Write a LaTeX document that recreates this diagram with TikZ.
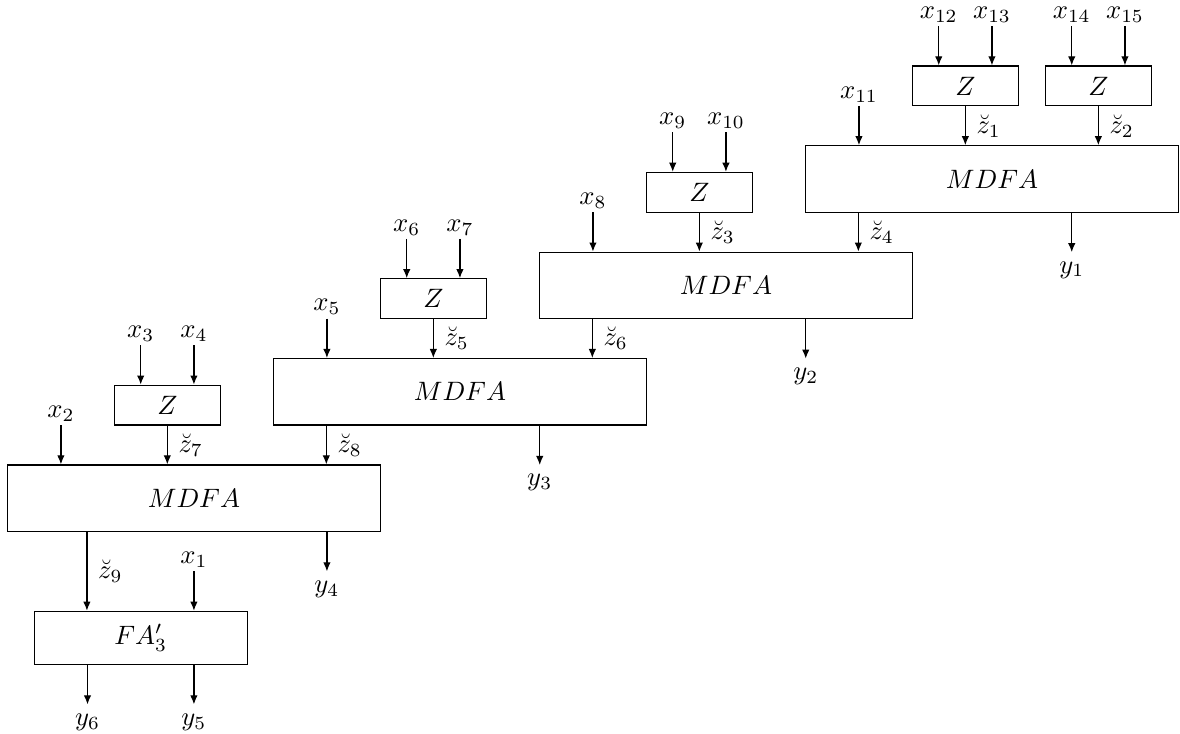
\documentclass[tikz,border=0pt]{standalone}
\usetikzlibrary{arrows.meta}
\begin{document}
\begin{tikzpicture}[x=10pt,y=10pt,line width=0.45pt,
  arr/.style={-{Latex[length=3.4pt,width=2.8pt]}},
  mdfa/.style={draw,minimum width=140pt,minimum height=25pt,inner sep=0pt},
  zbox/.style={draw,minimum width=40pt,minimum height=15pt,inner sep=0pt},
  fabox/.style={draw,minimum width=80pt,minimum height=20pt,inner sep=0pt},
  inlab/.style={above,inner sep=1.2pt},
  outlab/.style={below,inner sep=3.3pt},
  zlab/.style={right,inner sep=4pt}]
\useasboundingbox (-0.29,17.48) rectangle (44.07,-10.11);
% ---------- boxes ----------
\node[mdfa] (m1) at (37,10.75) {$MDFA$};
\node[mdfa] (m2) at (27,6.75) {$MDFA$};
\node[mdfa] (m3) at (17,2.75) {$MDFA$};
\node[mdfa] (m4) at (7,-1.25) {$MDFA$};
\node[zbox] (za) at (36,14.25) {$Z$};
\node[zbox] (zb) at (41,14.25) {$Z$};
\node[zbox] (zc) at (26,10.25) {$Z$};
\node[zbox] (zd) at (16,6.25) {$Z$};
\node[zbox] (ze) at (6,2.25) {$Z$};
\node[fabox] (fa) at (5,-6.5) {$FA'_3$};
% ---------- free ends ----------
\coordinate (x12) at (35,16.5);
\coordinate (x13) at (37,16.5);
\coordinate (x14) at (40,16.5);
\coordinate (x15) at (42,16.5);
\coordinate (x11) at (32,13.5);
\coordinate (x9) at (25,12.5);
\coordinate (x10) at (27,12.5);
\coordinate (x8) at (22,9.5);
\coordinate (x6) at (15,8.5);
\coordinate (x7) at (17,8.5);
\coordinate (x5) at (12,5.5);
\coordinate (x3) at (5,4.5);
\coordinate (x4) at (7,4.5);
\coordinate (x2) at (2,1.5);
\coordinate (x1) at (7,-4);
\coordinate (y1) at (40,8);
\coordinate (y2) at (30,4);
\coordinate (y3) at (20,0);
\coordinate (y4) at (12,-4);
\coordinate (y6) at (3,-9);
\coordinate (y5) at (7,-9);
% ---------- inputs ----------
\foreach \c/\t in {x12/x_{12},x13/x_{13},x14/x_{14},x15/x_{15},x9/x_9,x10/x_{10},x6/x_6,x7/x_7,x3/x_3,x4/x_4}
  \node[inlab] at (\c) {$\t$};
\foreach \c/\t in {x11/x_{11},x8/x_8,x5/x_5,x2/x_2,x1/x_1}
  \node[inlab] at (\c) {$\t$};
\draw[arr] (x12) -- (x12 |- za.north);
\draw[arr] (x13) -- (x13 |- za.north);
\draw[arr] (x14) -- (x14 |- zb.north);
\draw[arr] (x15) -- (x15 |- zb.north);
\draw[arr] (x9) -- (x9 |- zc.north);
\draw[arr] (x10) -- (x10 |- zc.north);
\draw[arr] (x6) -- (x6 |- zd.north);
\draw[arr] (x7) -- (x7 |- zd.north);
\draw[arr] (x3) -- (x3 |- ze.north);
\draw[arr] (x4) -- (x4 |- ze.north);
\draw[arr] (x11) -- (x11 |- m1.north);
\draw[arr] (x8) -- (x8 |- m2.north);
\draw[arr] (x5) -- (x5 |- m3.north);
\draw[arr] (x2) -- (x2 |- m4.north);
\draw[arr] (x1) -- (x1 |- fa.north);
% ---------- Z to MDFA ----------
\draw[arr] (za.south) -- (za.south |- m1.north) node[zlab,midway] {$\breve{z}_1$};
\draw[arr] (zb.south) -- (zb.south |- m1.north) node[zlab,midway] {$\breve{z}_2$};
\draw[arr] (zc.south) -- (zc.south |- m2.north) node[zlab,midway] {$\breve{z}_3$};
\draw[arr] (zd.south) -- (zd.south |- m3.north) node[zlab,midway] {$\breve{z}_5$};
\draw[arr] (ze.south) -- (ze.south |- m4.north) node[zlab,midway] {$\breve{z}_7$};
% ---------- MDFA to MDFA ----------
\draw[arr] ([xshift=20pt]m1.south west) -- ([xshift=120pt]m2.north west) node[zlab,midway] {$\breve{z}_4$};
\draw[arr] ([xshift=20pt]m2.south west) -- ([xshift=120pt]m3.north west) node[zlab,midway] {$\breve{z}_6$};
\draw[arr] ([xshift=20pt]m3.south west) -- ([xshift=120pt]m4.north west) node[zlab,midway] {$\breve{z}_8$};
\draw[arr] ([xshift=30pt]m4.south west) -- ([xshift=20pt]fa.north west) node[zlab,midway] {$\breve{z}_9$};
% ---------- outputs ----------
\draw[arr] (y1 |- m1.south) -- (y1) node[outlab] {$y_1$};
\draw[arr] (y2 |- m2.south) -- (y2) node[outlab] {$y_2$};
\draw[arr] (y3 |- m3.south) -- (y3) node[outlab] {$y_3$};
\draw[arr] (y4 |- m4.south) -- (y4) node[outlab] {$y_4$};
\draw[arr] (y6 |- fa.south) -- (y6) node[outlab] {$y_6$};
\draw[arr] (y5 |- fa.south) -- (y5) node[outlab] {$y_5$};
\end{tikzpicture}
\end{document}
